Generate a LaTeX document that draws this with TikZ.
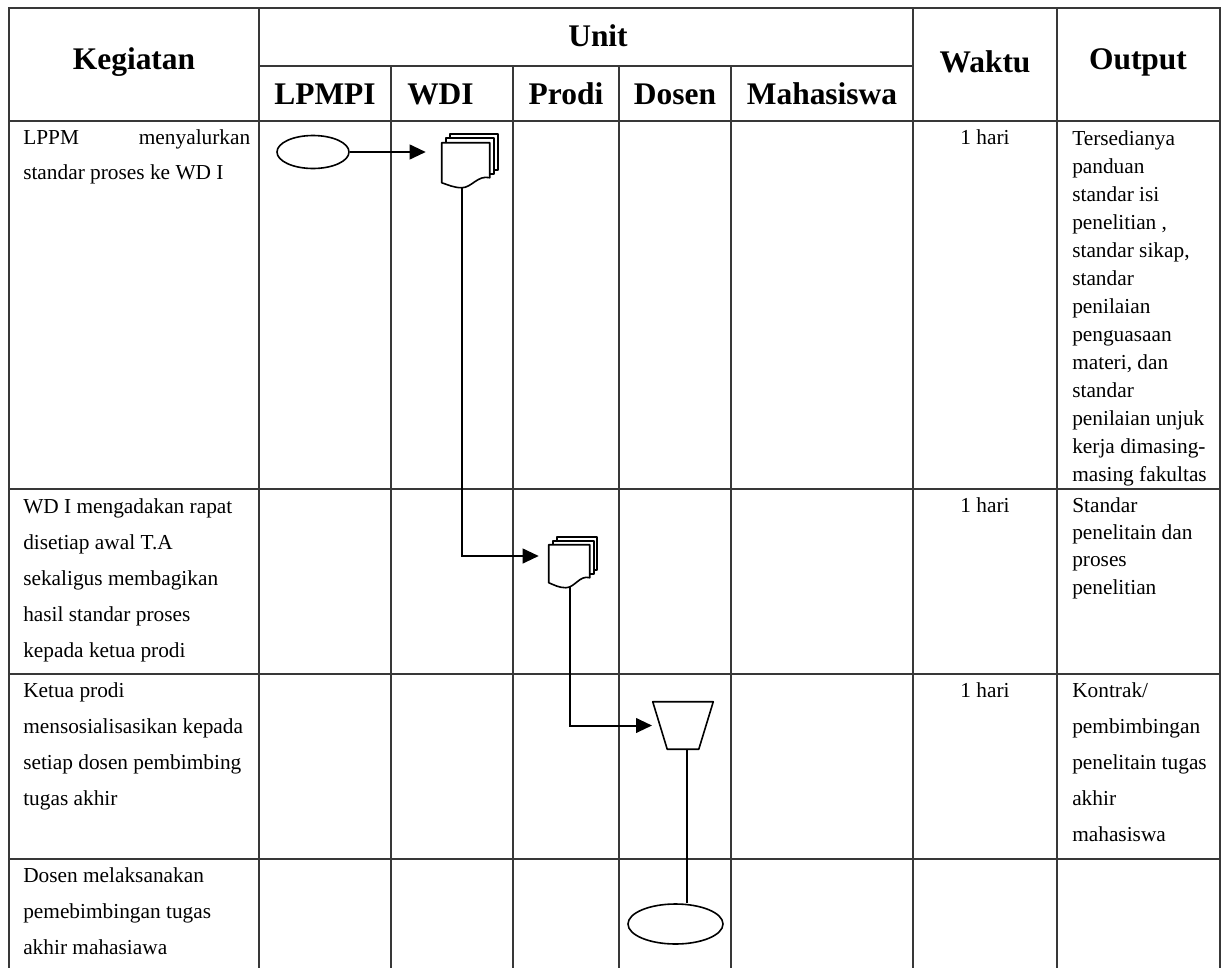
\documentclass[tikz,border=0pt]{standalone}
\usepackage{fontspec}
\setmainfont{Liberation Serif}
\usetikzlibrary{shapes.geometric,arrows.meta,calc}
\begin{document}
\begin{tikzpicture}[x=0.75pt,y=-0.75pt,
  grid/.style={draw=black!78, line width=1.1pt},
  hd/.style={font=\fontsize{23.6}{28}\selectfont\bfseries, inner sep=0pt},
  body/.style={font=\fontsize{16}{27}\selectfont, inner sep=0pt, align=left, anchor=north west},
  waktu/.style={font=\fontsize{16}{27}\selectfont, inner sep=0pt, anchor=base},
  conn/.style={line width=1.5pt, -{Triangle[length=12pt,width=11pt]}},
  plainline/.style={line width=1.5pt},
  term/.style={ellipse, draw, line width=1.2pt, inner sep=0pt},
  docbox/.style={inner sep=0pt, draw=none},
  docline/.style={draw=black, fill=white, line width=1.2pt, line join=round}
]
\useasboundingbox (0,0) rectangle (1222,968);
\fill[white] (0,0) rectangle (1222,968);

% ---------- table grid ----------
\draw[grid] (9,8) rectangle (1220,995);
\foreach \x in {259,913,1057} \draw[grid] (\x,8) -- (\x,995);
\foreach \x in {391,513,619,731} \draw[grid] (\x,66) -- (\x,995);
\draw[grid] (259,66) -- (913,66);
\foreach \y in {121,489,674,859} \draw[grid] (9,\y) -- (1220,\y);

% ---------- header ----------
\node[hd] (hKeg) at (134,62) {Kegiatan};
\node[hd] (hUnit) at (598,36) {Unit};
\node[hd] (hLP) at (325,94) {LPMPI};
\node[hd, anchor=west] (hWD) at (407,94) {WDI};
\node[hd] (hPr) at (566,94) {Prodi};
\node[hd] (hDo) at (675,94) {Dosen};
\node[hd] (hMa) at (822,94) {Mahasiswa};
\node[hd] (hWa) at (985,62) {Waktu};
\node[hd] (hOu) at (1138,62) {Output};

% ---------- Kegiatan ----------
\node[body, font=\fontsize{16}{26.3}\selectfont] (k1) at (23,129) {\makebox[170.25pt][l]{LPPM\hfill menyalurkan}\\standar proses ke WD I};
\node[body] (k2) at (23,498) {WD I mengadakan rapat\\disetiap awal T.A\\sekaligus membagikan\\hasil standar proses\\kepada ketua prodi};
\node[body] (k3) at (23,682) {Ketua prodi\\mensosialisasikan kepada\\setiap dosen pembimbing\\tugas akhir};
\node[body] (k4) at (23,867) {Dosen melaksanakan\\pemebimbingan tugas\\akhir mahasiawa};

% ---------- Waktu ----------
\node[waktu] (w1) at (985,144) {1 hari};
\node[waktu] (w2) at (985,512) {1 hari};
\node[waktu] (w3) at (985,697) {1 hari};

% ---------- Output ----------
\node[body, font=\fontsize{16}{21}\selectfont] (o1) at (1072,130) {Tersedianya\\panduan\\standar isi\\penelitian ,\\standar sikap,\\standar\\penilaian\\penguasaan\\materi, dan\\standar\\penilaian unjuk\\kerja dimasing-\\masing fakultas};
\node[body, font=\fontsize{16}{20.5}\selectfont] (o2) at (1072,497) {Standar\\penelitain dan\\proses\\penelitian};
\node[body] (o3) at (1072,682) {Kontrak/\\pembimbingan\\penelitain tugas\\akhir\\mahasiswa};

% ---------- flow shapes ----------
\node[term, minimum width=54pt, minimum height=24.75pt] (e1) at (313,152) {};
\node[docbox, minimum width=36pt, minimum height=30pt] (d1) at (466,163) {};
\node[docbox, minimum width=30.75pt, minimum height=28.5pt] (d2) at (569.5,564) {};
\node[docbox, minimum width=45pt, minimum height=35.25pt] (t1) at (683,725.5) {};
\node[term, minimum width=71.25pt, minimum height=30pt] (e2) at (675.5,924) {};

\coordinate (tin) at ($(t1.center)+(-31,0)$);
\coordinate (tout) at ($(t1.center)+(4,23.5)$);

% ---------- connectors ----------
\draw[conn, shorten >=12pt] (e1.east) -- (e1.east -| d1.west);
\draw[conn, shorten >=7.5pt] ([shift={(-4,0)}]d1.south) |- ([shift={(0,-8)}]d2.west);
\draw[conn] (d2.south) |- (tin);
\draw[plainline] (tout) -- (tout |- e2.north);

% ---------- manual operation (trapezoid) ----------
\path[docline] (t1.north west) -- (t1.north east) -- ([shift={(-14.5,0)}]t1.south east)
   -- ([shift={(14.5,0)}]t1.south west) -- cycle;

% ---------- multi-document symbols ----------
\begin{scope}[shift={(d1.north west)}]
  \path[docline] (8,-9) rectangle (56,27);
  \path[docline] (4,-4.5) rectangle (52,31);
  \path[docline] (0,0) -- (48,0) -- (48,35) .. controls (36,32) and (30,45) .. (20,45)
     .. controls (12,45) and (6,42) .. (0,40) -- cycle;
\end{scope}
\begin{scope}[shift={(d2.north west)}]
  \path[docline] (8,-8) rectangle (48,25);
  \path[docline] (4,-4) rectangle (45,29);
  \path[docline] (0,0) -- (41,0) -- (41,33) .. controls (31,30) and (26,43) .. (17,43)
     .. controls (10,43) and (5,40) .. (0,38) -- cycle;
\end{scope}
\end{tikzpicture}
\end{document}
